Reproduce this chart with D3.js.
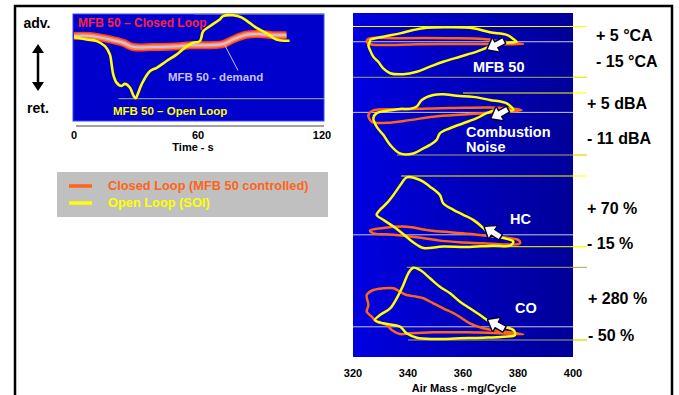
<!DOCTYPE html>
<html>
<head>
<meta charset="utf-8">
<script src="https://cdn.jsdelivr.net/npm/d3@7"></script>
<style>
  body { margin: 0; background: #fff; }
  svg { display: block; font-family: "Liberation Sans", Arial, sans-serif; font-weight: bold; }
</style>
</head>
<body>
<svg id="chart" width="679" height="395"></svg>
<script>
// ---- left chart: MFB 50 (°CA) over time (s) ----
const timeTicks = [0, 60, 120];
const closedLoopTime = [[0,-0.2],[7.7,-0.2],[17.4,-1.0],[23.8,-1.8],[28.6,-2.8],[38.3,-2.8],[51.2,-2.6],
  [56,-2.4],[72.1,-2.1],[77,-1.0],[83.4,0.1],[89.9,0.3],[96.3,0.0],[102.8,0.0]];
const openLoopTime = [[0,-0.5],[6.1,-1.0],[11,-1.4],[15,-2.6],[17.4,-4.6],[18.2,-6.9],[19,-9.3],[20.6,-11.2],
  [23,-12.0],[24.6,-11.5],[27.1,-12.4],[28.6,-14.1],[29.8,-14.9],[31.1,-13.6],[32.7,-11.6],[36.7,-8.5],
  [40,-7.7],[44.8,-6.1],[49.6,-4.6],[53.6,-3.0],[57.6,-1.8],[60.9,-1.4],[62.5,0.9],[65.7,2.1],[70.5,3.7],
  [72.1,4.5],[77,4.7],[81,4.2],[85,2.9],[88.3,1.7],[93.1,0.5],[97.9,-1.0],[104.3,-1.3]];
const timeLimits = [[21.5, -15], [58, 5]]; // [start time, level]

// ---- right chart: loops over air mass (mg/cycle) ----
const airMassTicks = [320, 340, 360, 380, 400];
const panelNames = ["MFB 50", "Combustion\nNoise", "HC", "CO"];
const highLabels = ["+ 5 °CA", "+ 5 dBA", "+ 70 %", "+ 280 %"];
const lowLabels = ["- 15 °CA", "- 11 dBA", "- 15 %", "- 50 %"];
const highLimits = [5, 5, 70, 280];
const lowLimits = [-15, -11, -15, -50];
const refValues = [-1, 0, -0.7, 10];
const highStart = [320, 360, 337.5, 339.6];
const lowStart = [320, 336, 368.7, 340];

const closedLoops = [
  [[325.6,0.1],[337.1,0.4],[355.3,0.4],[367.4,0.1],[374.7,-1.0],[381.9,-1.9],[375.9,-2.0],[361.3,-1.9],
   [343.2,-2.0],[331,-2.3],[326.2,-2.0],[325,-1.0]],
  [[381.3,0.6],[373.5,1.2],[355.3,1.1],[337.1,0.8],[327.4,0.5],[325.6,-0.7],[326.8,-2.4],[332.3,-2.7],
   [340.7,-2.0],[349.2,-1.1],[361.3,-0.5],[371,0.0]],
  [[326.2,4.3],[331,7.5],[339.5,9.1],[346.8,5.2],[355.3,2.3],[365,-0.5],[373.5,-3.7],[380.1,-6.8],
   [380.7,-10.9],[375.9,-12.4],[367.4,-10.9],[358.9,-9.7],[351.6,-7.7],[343.2,-3.7],[334.7,-0.5],[327.4,1.1]],
  [[381.9,-24.1],[373.5,-19.6],[361.3,-15.1],[349.2,-15.1],[340.7,-19.6],[337.1,-22.8],[334.1,-4.6],
   [332.3,18.1],[328.6,33.1],[326.8,55.8],[325,78.5],[325.6,108.9],[325,154.3],[327.4,177],[331,184.7],
   [334.7,184.7],[337.1,169.2],[339.5,154.3],[343.2,146.5],[345.6,139.3],[349.2,116.6],[352.8,93.9],
   [357.7,63.5],[362.5,25.8],[367.4,3.1],[373.5,-9.1]]
];
const openLoops = [
  [[326.2,-0.3],[331,1.0],[337.1,2.3],[341.9,3.6],[346.8,4.5],[355.3,4.7],[363.7,4.3],[369.8,2.7],
   [375.9,1.7],[378.3,0.1],[379.5,-1.0],[375.9,-1.4],[369.8,-3.0],[365,-4.9],[358.9,-6.9],[352.8,-8.9],
   [348,-10.8],[343.2,-12.8],[338.3,-13.8],[333.5,-13.4],[331,-11.5],[329.2,-8.9],[327.4,-6.9],
   [326.2,-4.3],[325.6,-2.3],[326.2,-0.9]],
  [[378.3,0.6],[375.9,2.3],[369.8,3.2],[363.7,4.0],[357.7,4.3],[352.8,4.7],[349.2,4.5],[345,3.2],
   [343.2,1.5],[340.7,0.9],[337.1,0.9],[332.3,0.4],[328.6,-0.2],[327.4,-1.5],[328.6,-3.7],[331,-5.8],
   [333.5,-8.4],[337.1,-10.6],[341.9,-10.6],[345.6,-9.3],[348,-8.4],[350.4,-7.1],[351.6,-5.4],
   [355.3,-4.1],[360.1,-2.8],[365,-1.5],[368.6,-0.2],[372.3,0.6]],
  [[339.5,68.4],[344.4,65.2],[348,57.2],[351.6,47.2],[352.8,37.3],[356.5,29.3],[360.1,23.3],[363.7,17.3],
   [367.4,7.4],[369.8,-0.7],[374.7,-4.6],[378.3,-8.7],[377.1,-13.8],[371,-13.8],[361.3,-15.4],
   [352.8,-14.7],[345.6,-16.6],[343.2,-12.6],[340.7,-6.6],[337.1,3.3],[334.7,9.3],[331,17.3],
   [328.6,23.3],[329.8,29.3],[332.3,37.3],[334.7,47.2],[337.7,61.3]],
  [[341.9,278.2],[344.4,267.7],[348,230.1],[351.6,191.9],[355.3,162],[358.9,123.8],[362.5,93.9],
   [366.2,63.5],[369.8,33.1],[374.7,10.4],[378.3,-4.6],[378.9,-27.3],[374.7,-35],[367.4,-39.6],
   [358.9,-42.3],[349.2,-45.5],[343.2,-39.6],[339.5,-19.6],[337.1,10.4],[331,25.8],[328,40.8],
   [329.8,63.5],[333.5,93.9],[335.9,139.3],[338.3,199.7],[340.1,252.8]]
];
const nameAnchors = [[363.6,-10.9],[361.1,-5.1],[377.1,18.5],[378.9,95.3]];
const arrowTips = [[369,-4],[370.4,-1.5],[368,8.6],[369.2,40.8]];
const arrowTails = [[373.5,-1.4],[375.3,0.4],[372.3,-0.7],[373.5,10.4]];

// ---- layout ----
const ORANGE = "#ff6418", YELLOW = "#ffff00";
const svg = d3.select("#chart");
svg.append("rect").attr("width", 679).attr("height", 395).attr("fill", "#fff");

// outer frame
svg.append("path")
  .attr("d", "M15,395 V6 H672 V395")
  .attr("fill", "none").attr("stroke", "#000").attr("stroke-width", 2.5);

// ===== left chart =====
const xT = d3.scaleLinear().domain([0, 120]).range([74, 322]);
const yT = d3.scaleLinear().domain([-15, 5]).range([98.7, 14]);

svg.append("rect").attr("x", 73).attr("y", 14).attr("width", 251).attr("height", 107)
  .attr("fill", "#0000cc").attr("stroke", "#3a48ff").attr("stroke-width", 1);

timeLimits.forEach(([t0, v]) => {
  svg.append("line").attr("x1", xT(t0)).attr("x2", 324).attr("y1", yT(v)).attr("y2", yT(v))
    .attr("stroke", "#8c8c8c").attr("stroke-width", 1.2);
});

const lineT = d3.line().x(d => xT(d[0])).y(d => yT(d[1])).curve(d3.curveCatmullRom);
svg.append("path").datum(closedLoopTime).attr("d", lineT)
  .attr("fill", "none").attr("stroke", "#ff3c28").attr("stroke-width", 8);
svg.append("path").datum(closedLoopTime).attr("d", lineT)
  .attr("fill", "none").attr("stroke", "#ff8a3c").attr("stroke-width", 5);
svg.append("path").datum(closedLoopTime).attr("d", lineT)
  .attr("fill", "none").attr("stroke", "#c8c2f2").attr("stroke-width", 2);
svg.append("path").datum(openLoopTime).attr("d", lineT)
  .attr("fill", "none").attr("stroke", YELLOW).attr("stroke-width", 2.6).attr("stroke-linejoin", "round");

// demand leader + labels
svg.append("line").attr("x1", 225).attr("y1", 45.5).attr("x2", 238).attr("y2", 70.5)
  .attr("stroke", "#c8c2f2").attr("stroke-width", 1);
svg.append("text").attr("x", 168).attr("y", 77).attr("dy", "0.35em").attr("font-size", 11.5)
  .attr("fill", "#c8c2f2").text("MFB 50 - demand");
svg.append("text").attr("x", 78).attr("y", 23).attr("dy", "0.35em").attr("font-size", 12)
  .attr("fill", "#ff2040").text("MFB 50 \u2013 Closed Loop");
svg.append("text").attr("x", 113).attr("y", 111).attr("dy", "0.35em").attr("font-size", 11.5)
  .attr("fill", YELLOW).text("MFB 50 \u2013 Open Loop");

// x axis (time)
svg.append("line").attr("x1", 76).attr("x2", 324).attr("y1", 126).attr("y2", 126)
  .attr("stroke", "#444").attr("stroke-width", 1);
svg.selectAll(".tt").data(timeTicks).join("text")
  .attr("x", d => xT(d)).attr("y", 135).attr("dy", "0.35em").attr("text-anchor", "middle")
  .attr("font-size", 11).attr("fill", "#000").text(d => d);
svg.append("text").attr("x", 193).attr("y", 147).attr("dy", "0.35em").attr("text-anchor", "middle")
  .attr("font-size", 11).text("Time - s");

// adv / ret with double arrow
svg.append("text").attr("x", 37).attr("y", 23).attr("dy", "0.35em").attr("text-anchor", "middle")
  .attr("font-size", 14).text("adv.");
svg.append("text").attr("x", 38).attr("y", 108).attr("dy", "0.35em").attr("text-anchor", "middle")
  .attr("font-size", 14).text("ret.");
svg.append("line").attr("x1", 38).attr("x2", 38).attr("y1", 50).attr("y2", 85)
  .attr("stroke", "#000").attr("stroke-width", 2.5);
svg.append("path").attr("d", "M38,44 L32,53 L44,53 Z M38,91 L32,82 L44,82 Z").attr("fill", "#000");

// legend
svg.append("rect").attr("x", 57).attr("y", 172).attr("width", 271).attr("height", 45).attr("fill", "#c0c0c0");
[[ORANGE, "Closed Loop (MFB 50 controlled)", 186], [YELLOW, "Open Loop (SOI)", 203]].forEach(([c, t, y]) => {
  svg.append("line").attr("x1", 69).attr("x2", 92).attr("y1", y).attr("y2", y)
    .attr("stroke", c).attr("stroke-width", 3.5);
  svg.append("text").attr("x", 108).attr("y", y).attr("dy", "0.35em").attr("font-size", 12.8)
    .attr("fill", c).text(t);
});

// ===== right chart =====
const xA = d3.scaleLinear().domain([320, 400]).range([353, 573]);
const panelTop = [26.5, 93, 176, 267.3];
const panelBottom = [77.3, 155, 246.7, 340];
const hiLabelY = [35, 103, 208, 298];
const loLabelY = [61, 138, 243, 335];
const labelX = [596, 587, 587, 588];

const defs = svg.append("defs");
const grad = defs.append("linearGradient").attr("id", "bg").attr("x1", 0).attr("x2", 1).attr("y1", 0).attr("y2", 0);
grad.append("stop").attr("offset", 0).attr("stop-color", "#0000e0");
grad.append("stop").attr("offset", 1).attr("stop-color", "#000098");
svg.append("rect").attr("x", 353).attr("y", 13).attr("width", 220).attr("height", 344).attr("fill", "url(#bg)");

panelNames.forEach((name, i) => {
  const y = d3.scaleLinear().domain([lowLimits[i], highLimits[i]]).range([panelBottom[i], panelTop[i]]);
  const g = svg.append("g");

  // reference + limit lines
  g.append("line").attr("x1", 353).attr("x2", 573).attr("y1", y(refValues[i])).attr("y2", y(refValues[i]))
    .attr("stroke", "#c8c8e8").attr("stroke-width", 1);
  g.append("line").attr("x1", xA(highStart[i])).attr("x2", 587).attr("y1", y(highLimits[i])).attr("y2", y(highLimits[i]))
    .attr("stroke", i === 3 ? "#a8a860" : YELLOW).attr("stroke-width", 1);
  g.append("line").attr("x1", xA(lowStart[i])).attr("x2", 587).attr("y1", y(lowLimits[i])).attr("y2", y(lowLimits[i]))
    .attr("stroke", i === 2 ? YELLOW : "#a8a860").attr("stroke-width", 1);
  g.append("line").attr("x1", 573).attr("x2", 587).attr("y1", y(lowLimits[i])).attr("y2", y(lowLimits[i]))
    .attr("stroke", YELLOW).attr("stroke-width", 1);

  const loop = d3.line().x(d => xA(d[0])).y(d => y(d[1])).curve(d3.curveCatmullRomClosed.alpha(0.5));
  g.append("path").datum(closedLoops[i]).attr("d", loop)
    .attr("fill", "none").attr("stroke", ORANGE).attr("stroke-width", 2.5).attr("stroke-linejoin", "round");
  g.append("path").datum(openLoops[i]).attr("d", loop)
    .attr("fill", "none").attr("stroke", YELLOW).attr("stroke-width", 2.5).attr("stroke-linejoin", "round");

  // arrow
  const tx = xA(arrowTips[i][0]), ty = y(arrowTips[i][1]);
  const ang = Math.atan2(ty - y(arrowTails[i][1]), tx - xA(arrowTails[i][0])) * 180 / Math.PI;
  g.append("path")
    .attr("d", "M0,0 L-9,-7 L-9,-2.6 L-18,-2.6 L-18,2.6 L-9,2.6 L-9,7 Z")
    .attr("transform", `translate(${tx},${ty}) rotate(${ang})`)
    .attr("fill", "#fff").attr("stroke", "#000048").attr("stroke-width", 3)
    .attr("stroke-linejoin", "round").attr("paint-order", "stroke");

  // panel name, one text per line
  name.split("\n").forEach((s, k) => {
    g.append("text").attr("x", xA(nameAnchors[i][0])).attr("y", y(nameAnchors[i][1]) + k * 15)
      .attr("dy", "0.35em").attr("font-size", 14.5).attr("fill", "#fff").text(s);
  });

  // limit labels
  g.append("text").attr("x", labelX[i]).attr("y", hiLabelY[i]).attr("dy", "0.35em")
    .attr("font-size", 16).attr("fill", "#000").text(highLabels[i]);
  g.append("text").attr("x", labelX[i]).attr("y", loLabelY[i]).attr("dy", "0.35em")
    .attr("font-size", 16).attr("fill", "#000").text(lowLabels[i]);
});

// air mass axis labels
svg.selectAll(".at").data(airMassTicks).join("text")
  .attr("x", d => xA(d)).attr("y", 373).attr("dy", "0.35em").attr("text-anchor", "middle")
  .attr("font-size", 11).attr("fill", "#000").text(d => d);
svg.append("text").attr("x", 464).attr("y", 388).attr("dy", "0.35em").attr("text-anchor", "middle")
  .attr("font-size", 11).text("Air Mass - mg/Cycle");
</script>
</body>
</html>
